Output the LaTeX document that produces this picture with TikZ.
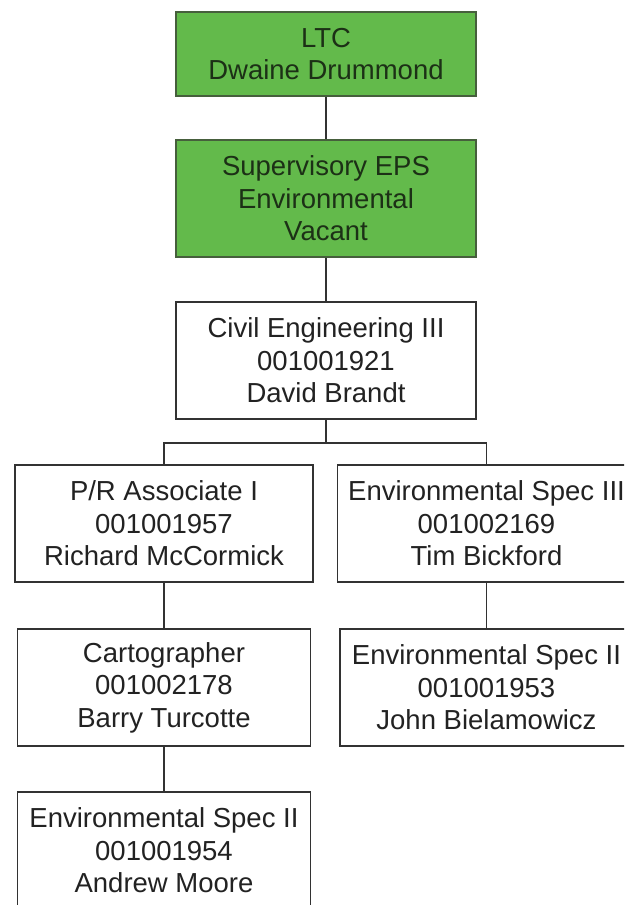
\documentclass[tikz,border=0pt]{standalone}
\usepackage{fontspec}
\setmainfont{Liberation Sans}
\definecolor{boxgreen}{RGB}{99,186,75}
\definecolor{greenedge}{RGB}{70,95,60}
\definecolor{greentext}{RGB}{28,48,22}
\definecolor{linegray}{RGB}{50,50,50}
\definecolor{textgray}{RGB}{34,34,34}
\begin{document}
\begin{tikzpicture}[x=1pt,y=1pt,
  posbox/.style={draw=linegray, line width=1.4pt, fill=white, text=textgray,
    rectangle, inner sep=0pt, minimum height=117pt, align=center,
    font=\fontsize{27.5}{32.5}\selectfont},
  greenbox/.style={posbox, fill=boxgreen, draw=greenedge, text=greentext},
  link/.style={draw=linegray, line width=1.4pt}]
\clip (0,0) rectangle (624,-905);
\fill[white] (0,0) rectangle (624,-905);

% management chain
\node[greenbox, minimum width=300pt, minimum height=84pt] (ltc) at (326,-54) {LTC\\Dwaine Drummond};
\node[greenbox, minimum width=300pt] (sup) at (326,-198.5) {Supervisory EPS\\Environmental\\Vacant};
\node[posbox, minimum width=300pt] (civ) at (326,-360.5) {Civil Engineering III\\001001921\\David Brandt};

% two branches
\node[posbox, minimum width=298pt] (pra) at (164,-523.5) {P/R Associate I\\001001957\\Richard McCormick};
\node[posbox, minimum width=298pt] (es3) at (486.5,-523.5) {Environmental Spec III\\001002169\\Tim Bickford};
\node[posbox, minimum width=293pt] (car) at (164,-687.5) {Cartographer\\001002178\\Barry Turcotte};
\node[posbox, minimum width=293pt] (es2b) at (486.5,-687.5) {Environmental Spec II\\001001953\\John Bielamowicz};
\node[posbox, minimum width=293pt] (es2a) at (164,-850.5) {Environmental Spec II\\001001954\\Andrew Moore};

% connectors
\coordinate (bus) at (326,-443);
\draw[link] (ltc.south) -- (sup.north);
\draw[link] (sup.south) -- (civ.north);
\draw[link] (civ.south) -- (bus);
\draw[link] (pra.north) |- (bus) -| (es3.north);
\draw[link] (pra.south) -- (car.north);
\draw[link] (car.south) -- (es2a.north);
\draw[link] (es3.south) -- (es2b.north);
\end{tikzpicture}
\end{document}
